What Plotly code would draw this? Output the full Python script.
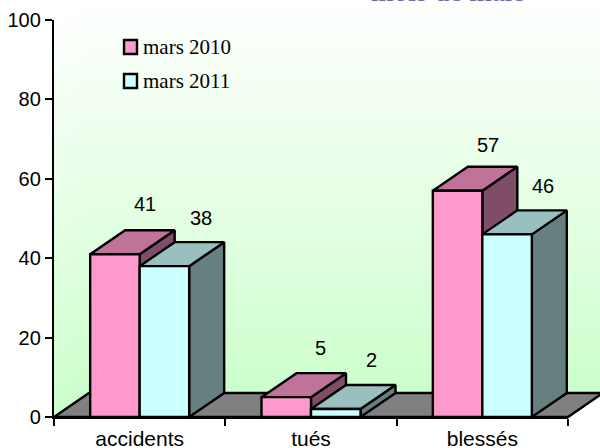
import plotly.graph_objects as go

categories = ["accidents", "tués", "blessés"]
series_names = ["mars 2010", "mars 2011"]
values_2010 = [41, 5, 57]
values_2011 = [38, 2, 46]
y_ticks = [0, 20, 40, 60, 80, 100]
title_text = "mois de mars"

W, H = 600, 448
L, R, T, B = 54, 32, 20, 31
px_x = (W - L - R) / 3
px_y = (H - T - B) / 100
DX, DY = 35 / px_x, 24 / px_y
BAR = 49.5 / px_x
LW = 2.4

FACES = [("#ff99cc", "#bf7399", "#804d66"), ("#ccffff", "#99bfbf", "#668080")]
LABEL_SHIFTS = [[(30, 50), (34, 49), (30, 46)], [(37, 48), (36, 49), (36, 48)]]
SANS = "Liberation Sans"
SERIF = "Liberation Serif"
fig = go.Figure()


def poly(xs, ys, fill, line=True, name=None, axes=("x2", "y2")):
    fig.add_trace(go.Scatter(
        x=xs + xs[:1], y=ys + ys[:1], mode="lines", fill="toself", fillcolor=fill,
        xaxis=axes[0], yaxis=axes[1],
        line=dict(color="#000000" if line else fill, width=LW if line else 0),
        hoverinfo="skip", showlegend=False, cliponaxis=False, name=name))


BACK = ("x", "y")
# gradient walls
N = 44
x_end = 3 + DX + 0.1
for i in range(N):
    t0, t1 = i / N, (i + 1) / N
    frac = (i + 0.5) / N
    col = f"rgb({round(255 - 51 * frac)},255,{round(255 - 51 * frac)})"
    y1 = 100 * (1 - t0)
    y0 = 100 * (1 - t1) - 0.2
    poly([DX, x_end, x_end, DX], [y0 + DY, y0 + DY, y1 + DY, y1 + DY], col, line=False, axes=BACK)
    poly([0, DX, DX, 0], [y0, y0 + DY, y1 + DY, y1], col, line=False, axes=BACK)

# floor
poly([0, 3, 3 + DX, DX], [0, 0, DY, DY], "#808080", axes=BACK)

# bars
labels = []
for c in range(len(categories)):
    for s, vals in enumerate([values_2010, values_2011]):
        v = vals[c]
        x0 = c + 0.5 + (s - 1) * BAR
        x1 = x0 + BAR
        front, top, side = FACES[s]
        poly([x1, x1 + DX, x1 + DX, x1], [0, DY, v + DY, v], side)
        poly([x0, x1, x1 + DX, x0 + DX], [v, v, v + DY, v + DY], top)
        poly([x0, x1, x1, x0], [0, 0, v, v], front, name=series_names[s])
        sx, sy = LABEL_SHIFTS[s][c]
        labels.append(dict(xref="x2", yref="y2", x=(x0 + x1) / 2, y=v, text=str(v), showarrow=False,
                           xshift=sx, yshift=sy,
                           font=dict(family=SANS, size=20, color="#000000")))

# category labels on an overlaid axis
fig.add_trace(go.Scatter(x=[None], y=[None], xaxis="x3", yaxis="y2", showlegend=False, hoverinfo="skip"))

annotations = labels + [dict(
    xref="paper", yref="paper", x=448.5 / W, y=(H - T) / H, yshift=11, xanchor="center", yanchor="bottom",
    text=title_text, showarrow=False, font=dict(family=SERIF, size=29, color="#6b6ba8"))]

shapes = []
for i, name in enumerate(series_names):
    cy = 47 + 34 * i
    shapes.append(dict(type="rect", xref="paper", yref="paper",
                       x0=124 / W, x1=137 / W,
                       y0=1 - (cy + 7) / H, y1=1 - (cy - 7) / H,
                       fillcolor=FACES[i][0], line=dict(color="#000000", width=LW)))
    annotations.append(dict(xref="paper", yref="paper", x=142 / W,
                            y=1 - cy / H, xanchor="left", yanchor="middle",
                            text=name, showarrow=False, borderpad=0,
                            font=dict(family=SERIF, size=21, color="#000000")))

fig.update_layout(
    width=W, height=H, margin=dict(l=0, r=0, t=0, b=0, pad=0, autoexpand=False),
    paper_bgcolor="#ffffff", plot_bgcolor="rgba(0,0,0,0)", showlegend=False,
    annotations=annotations, shapes=shapes,
    # full-page backdrop axes in the same units as the chart axes
    xaxis=dict(domain=[0, 1], range=[-L / px_x, (W - L) / px_x], visible=False, fixedrange=True),
    yaxis=dict(domain=[0, 1], range=[-B / px_y, (H - B) / px_y], visible=False, fixedrange=True),
    xaxis2=dict(domain=[L / W, 1 - R / W], anchor="y2", range=[0, 3], tickmode="array",
                tickvals=[0, 1, 2, 3], ticktext=["", "", "", ""],
                ticks="outside", ticklen=7, tickwidth=2, tickcolor="#000000", showgrid=False,
                showline=True, linecolor="#000000", linewidth=LW, zeroline=False, fixedrange=True),
    xaxis3=dict(range=[0, 3], overlaying="x2", anchor="y2", side="bottom", tickmode="array",
                tickvals=[0.5, 1.5, 2.5], ticktext=categories, ticks="outside", ticklen=3,
                tickcolor="rgba(0,0,0,0)", showgrid=False, showline=False, zeroline=False,
                tickfont=dict(family=SANS, size=21, color="#000000"), fixedrange=True),
    yaxis2=dict(domain=[B / H, 1 - T / H], anchor="x2", range=[0, 100], tickmode="array", tickvals=y_ticks,
                ticks="outside", ticklen=7, tickwidth=2, tickcolor="#000000", showgrid=False,
                showline=True, linecolor="#000000", linewidth=LW, zeroline=False, fixedrange=True,
                tickfont=dict(family=SANS, size=20, color="#000000")),
)
fig.write_html("out.html", config=dict(displayModeBar=False),
               post_script="document.body.style.margin='0';document.documentElement.style.overflow='hidden';")
